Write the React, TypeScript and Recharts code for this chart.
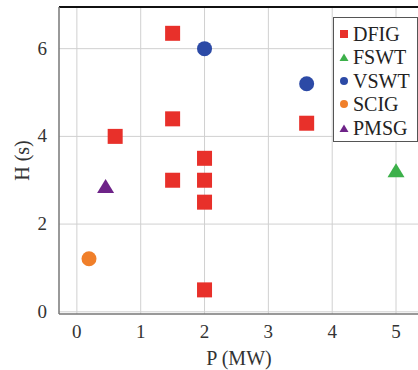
import React from "react";
import { ScatterChart, Scatter, XAxis, YAxis, CartesianGrid, ReferenceLine } from "recharts";

const dfig = [
  { p: 1.5, h: 6.35 },
  { p: 1.5, h: 4.4 },
  { p: 0.6, h: 4.0 },
  { p: 3.6, h: 4.3 },
  { p: 2.0, h: 3.5 },
  { p: 1.5, h: 3.0 },
  { p: 2.0, h: 3.0 },
  { p: 2.0, h: 2.5 },
  { p: 2.0, h: 0.5 },
];
const fswt = [{ p: 5.0, h: 3.23 }];
const vswt = [
  { p: 2.0, h: 6.0 },
  { p: 3.6, h: 5.2 },
];
const scig = [{ p: 0.19, h: 1.21 }];
const pmsg = [{ p: 0.45, h: 2.87 }];

const xTicks = [0, 1, 2, 3, 4, 5];
const yTicks = [0, 2, 4, 6];
const X_DOMAIN: [number, number] = [-0.28, 5.36];
const Y_DOMAIN: [number, number] = [-0.05, 6.95];

const RED = "#e8302a";
const GREEN = "#3cb04a";
const BLUE = "#2c4aa6";
const ORANGE = "#f07f2a";
const PURPLE = "#6e2388";

const FONT = "'Liberation Serif', 'DejaVu Serif', serif";

const Square = (props: any) => {
  const { cx, cy } = props;
  const s = 15;
  return <rect x={cx - s / 2} y={cy - s / 2} width={s} height={s} fill={RED} />;
};
const Circle = (color: string) => (props: any) => {
  const { cx, cy } = props;
  return <circle cx={cx} cy={cy} r={7.5} fill={color} />;
};
const Triangle = (color: string) => (props: any) => {
  const { cx, cy } = props;
  const w = 17;
  const h = 14;
  return (
    <polygon
      points={`${cx - w / 2},${cy + h / 2} ${cx + w / 2},${cy + h / 2} ${cx},${cy - h / 2}`}
      fill={color}
    />
  );
};

const XTick = (props: any) => {
  const { x, y, payload } = props;
  return (
    <text x={x} y={y + 15} textAnchor="middle" fontFamily={FONT} fontSize={19} fill="#333">
      {payload.value}
    </text>
  );
};
const YTick = (props: any) => {
  const { x, y, payload } = props;
  return (
    <text x={x} y={y + 6} textAnchor="end" fontFamily={FONT} fontSize={19} fill="#333">
      {payload.value}
    </text>
  );
};

const legendItems = [
  { name: "DFIG", color: RED, kind: "square" },
  { name: "FSWT", color: GREEN, kind: "triangle" },
  { name: "VSWT", color: BLUE, kind: "circle" },
  { name: "SCIG", color: ORANGE, kind: "circle" },
  { name: "PMSG", color: PURPLE, kind: "triangle" },
];

const LegendBox = () => (
  <div
    style={{
      position: "absolute",
      left: 333,
      top: 17,
      border: "1px solid #555",
      background: "#fff",
      width: 85,
      height: 125,
      boxSizing: "border-box",
      padding: "4px 0 0 4px",
      fontFamily: FONT,
      fontSize: 20,
      color: "#222",
    }}
  >
    {legendItems.map((it) => (
      <div key={it.name} style={{ display: "flex", alignItems: "center", height: 23.5 }}>
        <svg width={12} height={12} style={{ marginRight: 3 }}>
          {it.kind === "square" && <rect x={2} y={2} width={8} height={8} fill={it.color} />}
          {it.kind === "circle" && <circle cx={6} cy={6} r={4} fill={it.color} />}
          {it.kind === "triangle" && <polygon points="1.5,10 10.5,10 6,2.5" fill={it.color} />}
        </svg>
        <span style={{ lineHeight: "20px" }}>{it.name}</span>
      </div>
    ))}
  </div>
);

export default function App() {
  return (
    <div style={{ position: "absolute", left: 0, top: 0, width: 418, height: 370, overflow: "hidden", background: "#fff", fontFamily: FONT }}>
      <ScatterChart width={440} height={370} margin={{ top: 7, right: 21, bottom: 0, left: 0 }} style={{ fontFamily: FONT }}>
        <CartesianGrid stroke="#d0d0d0" strokeWidth={1} horizontalValues={yTicks} verticalValues={xTicks} />
        <XAxis
          type="number"
          dataKey="p"
          domain={X_DOMAIN}
          ticks={xTicks}
          allowDataOverflow
          height={56}
          stroke="#777"
          strokeWidth={1.5}
          tickLine={false}
          tick={<XTick />}
          tickMargin={3}
          label={{ value: "P (MW)", position: "insideBottom", offset: 5, fontFamily: FONT, fontSize: 20, fill: "#333" }}
        />
        <YAxis
          type="number"
          dataKey="h"
          domain={Y_DOMAIN}
          ticks={yTicks}
          allowDataOverflow
          width={59}
          stroke="#777"
          strokeWidth={1.5}
          tickLine={false}
          tick={<YTick />}
          tickMargin={6}
          label={{ value: "H (s)", angle: -90, position: "insideLeft", offset: 22, fontFamily: FONT, fontSize: 20, fill: "#333", style: { textAnchor: "middle" } }}
        />
        <ReferenceLine y={Y_DOMAIN[1]} stroke="#111" strokeWidth={2} />
        <Scatter name="DFIG" data={dfig} shape={Square} isAnimationActive={false} />
        <Scatter name="FSWT" data={fswt} shape={Triangle(GREEN)} isAnimationActive={false} />
        <Scatter name="VSWT" data={vswt} shape={Circle(BLUE)} isAnimationActive={false} />
        <Scatter name="SCIG" data={scig} shape={Circle(ORANGE)} isAnimationActive={false} />
        <Scatter name="PMSG" data={pmsg} shape={Triangle(PURPLE)} isAnimationActive={false} />
      </ScatterChart>
      <LegendBox />
    </div>
  );
}
